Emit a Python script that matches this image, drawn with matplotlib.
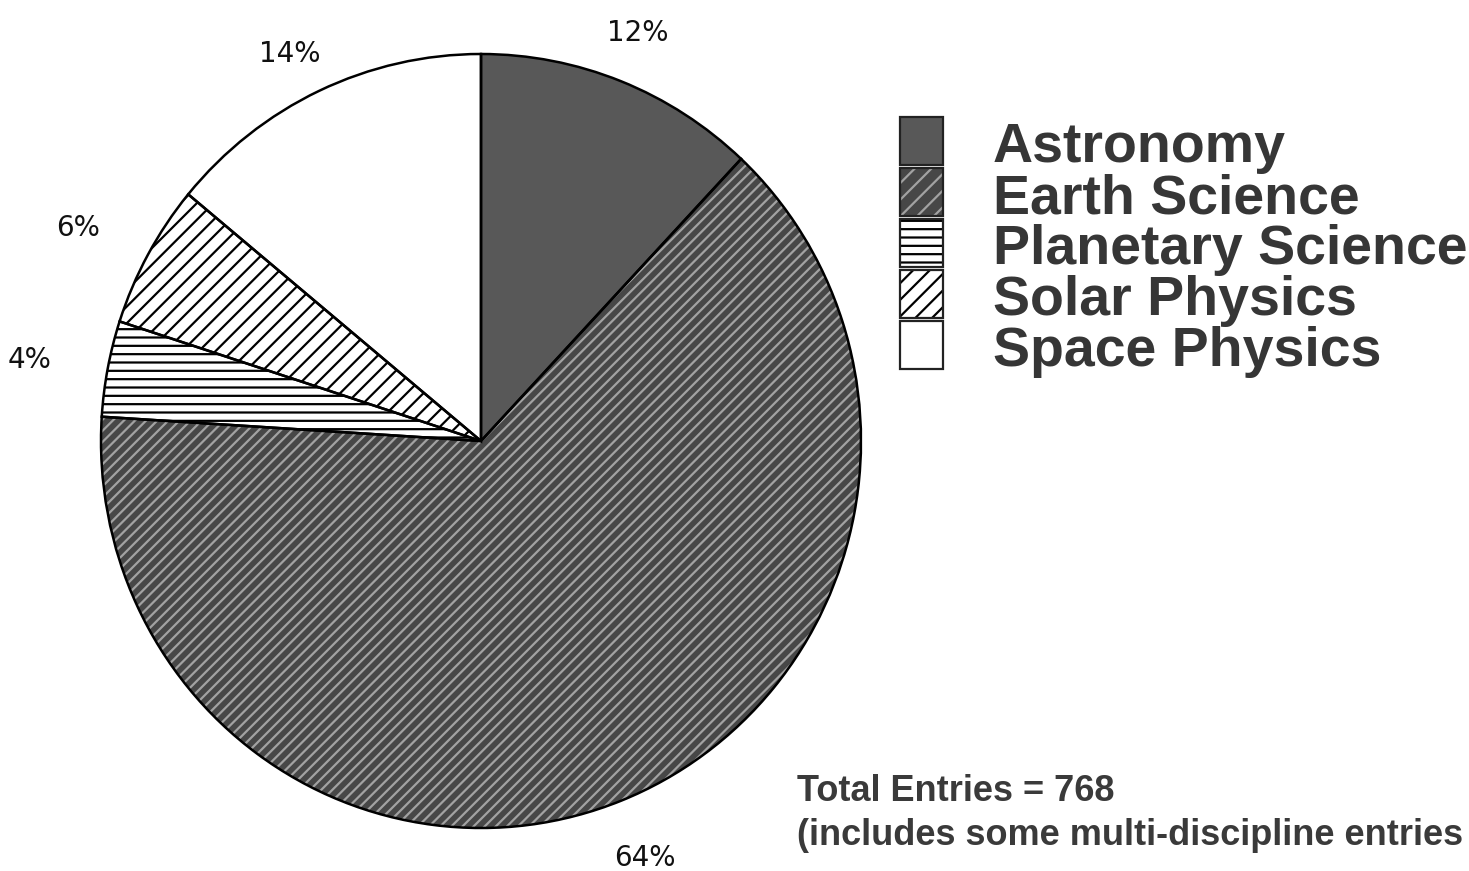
import matplotlib
matplotlib.use('Agg')
import matplotlib.pyplot as plt
from matplotlib.patches import Rectangle
from matplotlib import font_manager

# ---- data ----
categories = ["Astronomy", "Earth Science", "Planetary Science", "Solar Physics", "Space Physics"]
shares = [12, 64, 4, 6, 14]
pct_labels = ["12%", "64%", "4%", "6%", "14%"]
total_entries = 768
note_lines = [f"Total Entries = {total_entries}", "(includes some multi-discipline entries"]

# ---- styles ----
face = ['#585858', '#474747', 'white', 'white', 'white']
hatches = [None, '///', '--', '//', None]
hatch_cols = ['#585858', '#a2a2a2', 'black', 'black', 'white']
legend_hatches = [None, '//', '--', '//', None]


def has_font(name):
    try:
        font_manager.findfont(font_manager.FontProperties(family=name), fallback_to_default=False)
        return True
    except Exception:
        return False

narrow = 'Liberation Sans Narrow' if has_font('Liberation Sans Narrow') else 'DejaVu Sans'
bold_font = 'Liberation Sans' if has_font('Liberation Sans') else 'DejaVu Sans'

W, H = 1469, 871
plt.rcParams['hatch.linewidth'] = 1.6
fig = plt.figure(figsize=(W / 100, H / 100), dpi=100)
fig.patch.set_facecolor('white')

# overlay axes in pixel coordinates for legend / notes
lax = fig.add_axes([0, 0, 1, 1])
lax.set_xlim(0, W)
lax.set_ylim(H, 0)
lax.axis('off')

# ---- pie ----
cx, cy, rx, ry = 481, 441, 380, 387
ax = fig.add_axes([(cx - rx) / W, 1 - (cy + ry) / H, 2 * rx / W, 2 * ry / H])
wedges, _ = ax.pie(shares, startangle=90, counterclock=False, colors=face,
                   wedgeprops=dict(linewidth=0))
for w, h, hc in zip(wedges, hatches, hatch_cols):
    w.set_clip_on(False)
    if h:
        w.set_hatch(h)
        w.set_edgecolor(hc)
outl, _ = ax.pie(shares, startangle=90, counterclock=False,
                 wedgeprops=dict(linewidth=1.8, edgecolor='black', fill=False))
for w in outl:
    w.set_clip_on(False)
ax.set_aspect('auto')
ax.set_xlim(-1, 1)
ax.set_ylim(-1, 1)
ax.axis('off')

# percentage labels (pixel positions)
pct_pos = {"12%": (638, 33), "64%": (645, 858), "4%": (30, 360), "6%": (78, 228), "14%": (290, 54)}
for lab in pct_labels:
    x, y = pct_pos[lab]
    lax.text(x, y, lab, fontsize=20, family=narrow, ha='center', va='center', color='#111111')

# ---- legend ----
baselines = [162, 213, 264, 315, 366]
for cat, fc, lh, hc, b in zip(categories, face, legend_hatches, hatch_cols, baselines):
    r = Rectangle((900, b - 45), 43, 48, facecolor=fc, edgecolor=hc if lh else 'black',
                  hatch=lh, linewidth=0)
    lax.add_patch(r)
    lax.add_patch(Rectangle((900, b - 45), 43, 48, fill=False, edgecolor='#222222', linewidth=1.6))
    lax.text(993, b, cat, fontsize=40, fontweight='bold', family=bold_font,
             ha='left', va='baseline', color='#363636')

# ---- note ----
for line, b in zip(note_lines, [801, 845]):
    lax.text(797, b, line, fontsize=26, fontweight='bold', family=bold_font,
             ha='left', va='baseline', color='#3a3a3a')

fig.savefig('out.png', dpi=100)
